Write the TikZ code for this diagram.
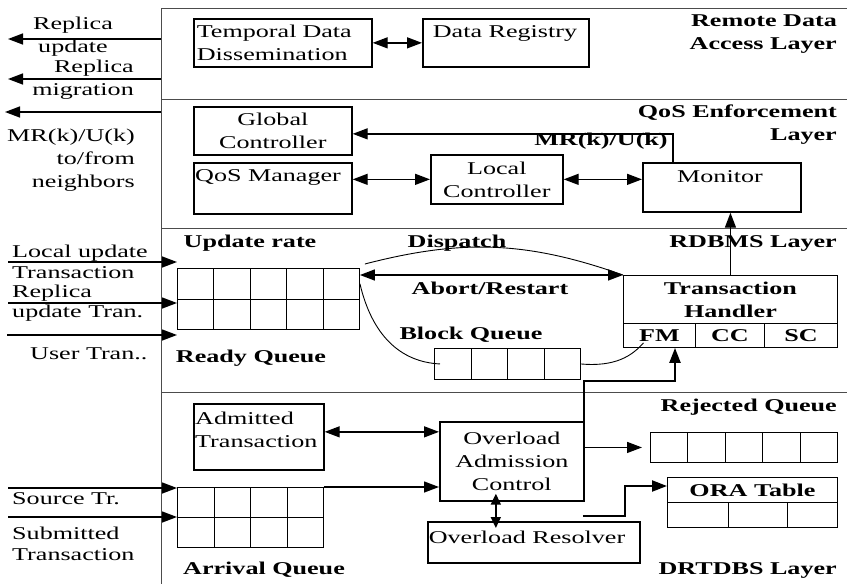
\documentclass[tikz,border=0pt]{standalone}
\usepackage{fontspec}
\setmainfont{Liberation Serif}[FakeStretch=1.45]
\usetikzlibrary{positioning,arrows.meta}
\tikzset{
    box/.style={draw, line width=1.7pt, inner sep=0pt},
    cell/.style={draw, line width=0.9pt, inner sep=0pt, anchor=north west},
    txt/.style={font=\fontsize{18}{23}\selectfont, inner sep=0pt, align=center},
    btxt/.style={font=\fontsize{18}{23}\selectfont\bfseries, inner sep=0pt, align=center},
    layer name/.style={btxt, align=right, anchor=east},
    side/.style={font=\fontsize{18}{20.5}\selectfont, inner sep=0pt, align=left, anchor=west},
    link/.style={line width=0.9pt},
    arr/.style={-{Triangle[length=15pt, width=11pt]}, line width=1.4pt},
    darr/.style={{Triangle[length=15pt, width=11pt]}-{Triangle[length=15pt, width=11pt]}, line width=1.4pt},
    feed/.style={-{Triangle[length=15pt, width=11pt]}, line width=2.2pt},
    frame/.style={draw=black!70, line width=0.9pt}
}

\begin{document}
\begin{tikzpicture}[x=1pt, y=-1pt]
    \useasboundingbox (0,0) rectangle (847,584);

    % layer borders
    \draw[frame] (847,8) -- (161,8) -- (161,584);
    \draw[frame] (161,99) -- (847,99);
    \draw[frame] (161,228) -- (847,228);
    \draw[frame] (161,392) -- (847,392);

    % remote data access layer
    \node[box, txt, anchor=north west, inner xsep=3pt, text width=172pt, align=left, minimum height=48pt] (tdd) at (193,18) {Temporal Data\\Dissemination};
    \node[box, anchor=north west, minimum width=166pt, minimum height=48pt] (reg) at (422,18) {};
    \node[txt] (regtxt) at (505,33) {Data Registry};
    \node[layer name] (ral) at (837,34) {Remote Data\\Access Layer};
    \draw[darr] (tdd) -- (reg);

    \coordinate (rupd-a) at (161,39);
    \coordinate (rupd-b) at (8,39);
    \coordinate (rmig-a) at (161,79);
    \coordinate (rmig-b) at (8,79);
    \coordinate (nb-a) at (161,112);
    \coordinate (nb-b) at (5,112);
    \draw[arr] (rupd-a) -- (rupd-b);
    \draw[arr] (rmig-a) -- (rmig-b);
    \draw[arr] (nb-a) -- (nb-b);
    \node[txt] (rupdtxt) at (73,37) {Replica\\update};
    \node[txt, align=right, anchor=east] (rmigtxt) at (134,80) {Replica\\migration};
    \node[txt, align=right, anchor=east] (nbtxt) at (135,160) {MR(k)/U(k)\\to/from\\neighbors};

    % QoS enforcement layer
    \node[box, txt, anchor=north west, minimum width=158pt, minimum height=48pt] (gc) at (193,106) {Global\\Controller};
    \node[box, anchor=north west, minimum width=158pt, minimum height=51pt] (qm) at (193,162) {};
    \node[txt] (qmtxt) at (268,177) {QoS Manager};
    \node[box, txt, anchor=north west, minimum width=132pt, minimum height=49pt] (lc) at (430,154) {Local\\Controller};
    \node[box, anchor=north west, minimum width=158pt, minimum height=49pt] (mon) at (642,162) {};
    \node[txt] (montxt) at (720,177) {Monitor};
    \node[layer name] (qel) at (837,125) {QoS Enforcement\\Layer};
    \node[btxt] (mrk) at (601,141) {MR(k)/U(k)};

    \draw[darr] (qm.east |- lc.west) -- (lc.west);
    \draw[darr] (lc.east) -- (lc.east -| mon.west);
    \draw[arr] ([xshift=-49pt]mon.north) |- ([yshift=-3pt]gc.east);

    % RDBMS layer
    \foreach \c in {1,...,5}
        \foreach \r in {1,2}
            \node[cell, minimum width=36.4pt, minimum height=30.5pt] (rq-\c-\r) at ({177+36.4*(\c-1)},{268+30.5*(\r-1)}) {};
    \foreach \c in {1,...,4}
        \node[cell, minimum width=36.5pt, minimum height=31pt] (bq-\c) at ({434+36.5*(\c-1)},348) {};
    \node[cell, btxt, minimum width=214pt, minimum height=48pt] (th) at (623,275) {Transaction\\Handler};
    \node[cell, btxt, minimum width=72pt, minimum height=24pt] (fm) at (623,323) {FM};
    \node[cell, btxt, minimum width=69pt, minimum height=24pt] (cc) at (695,323) {CC};
    \node[cell, btxt, minimum width=73pt, minimum height=24pt] (sc) at (764,323) {SC};

    \node[btxt] (urtxt) at (250,243) {Update rate};
    \node[btxt] (rqtxt) at (251,358) {Ready Queue};
    \node[btxt] (dsptxt) at (457,243) {Dispatch};
    \node[btxt] (abtxt) at (490,288) {Abort/Restart};
    \node[btxt] (bqtxt) at (471,335) {Block Queue};
    \node[layer name] (rdl) at (837,243) {RDBMS Layer};

    \coordinate (lu) at (8,262);
    \coordinate (ru) at (8,303);
    \coordinate (ut) at (7,335);
    \draw[arr] (lu) -- (lu -| rq-1-1.west);
    \draw[arr] (ru) -- (ru -| rq-1-1.west);
    \draw[arr] (ut) -- (ut -| rq-1-1.west);
    \node[side] (lutxt) at (12,262) {Local update\\Transaction};
    \node[side] (rutxt) at (12,303) {Replica\\update Tran.};
    \node[side] (uttxt) at (30,354) {User Tran..};

    \draw[darr] (th.north west) -- (th.north west -| rq-5-1.east);
    \draw[link] ([xshift=5pt,yshift=4pt]rq-5-1.north east) to[bend left=17] (th.north west);
    \draw[link] (rq-5-1.east) .. controls (372,335) and (400,362) .. ([xshift=6pt]bq-1.west);
    \draw[link] (bq-4.east) .. controls (615,367) and (632,356) .. ([xshift=-16pt,yshift=5pt]fm.south);
    \draw[arr] (th.north) -- (th.north |- mon.south);

    % DRTDBS layer
    \node[box, anchor=north west, minimum width=130pt, minimum height=66pt] (adm) at (193,403) {};
    \node[txt, align=left, anchor=west] (admtxt) at (195,430) {Admitted\\Transaction};
    \node[box, txt, anchor=north west, minimum width=144pt, minimum height=79pt] (oac) at (439,421) {Overload\\Admission\\Control};
    \node[box, anchor=north west, minimum width=212pt, minimum height=41pt] (res) at (427,521) {};
    \node[txt] (restxt) at (527,537) {Overload Resolver};

    \foreach \c in {1,...,4}
        \foreach \r in {1,2}
            \node[cell, minimum width=36.5pt, minimum height=30pt] (aq-\c-\r) at ({177+36.5*(\c-1)},{487+30*(\r-1)}) {};
    \foreach \c in {1,...,5}
        \node[cell, minimum width=37.4pt, minimum height=30pt] (rj-\c) at ({650+37.4*(\c-1)},432) {};
    \node[cell, btxt, minimum width=170pt, minimum height=25pt] (ora) at (667,477) {ORA Table};
    \node[cell, minimum width=61pt, minimum height=25pt] (ora-1) at (667,502) {};
    \node[cell, minimum width=59pt, minimum height=25pt] (ora-2) at (728,502) {};
    \node[cell, minimum width=50pt, minimum height=25pt] (ora-3) at (787,502) {};

    \node[btxt] (aqtxt) at (264,570) {Arrival Queue};
    \node[layer name] (rjtxt) at (837,407) {Rejected Queue};
    \node[layer name] (drl) at (837,570) {DRTDBS Layer};

    \coordinate (st) at (8,488);
    \coordinate (sbt) at (8,517);
    \draw[arr] (st) -- (st -| aq-1-1.west);
    \draw[arr] (sbt) -- (sbt -| aq-1-2.west);
    \node[side] (sttxt) at (12,499) {Source Tr.};
    \node[side] (sbtxt) at (12,544) {Submitted\\Transaction};

    \draw[darr] ([yshift=5pt]adm.east) -- ([yshift=5pt]adm.east -| oac.west);
    \draw[arr] (aq-4-1.north east) -- (aq-4-1.north east -| oac.west);
    \draw[arr] (oac.east |- rj-1.center) -- ([xshift=-8pt]rj-1.west);
    \coordinate (ovr-a) at ([xshift=-16pt]oac.south);
    \coordinate (ovr-b) at (ovr-a |- res.north);
    \draw[{Triangle[length=11pt, width=10pt]}-{Triangle[length=11pt, width=10pt]}, line width=1.6pt] ([yshift=8pt]ovr-a) -- ([yshift=-7pt]ovr-b);

    \coordinate (fmbend) at (675,381);
    \coordinate (orabend) at (625,486);
    \draw[feed] ([xshift=-1pt]oac.north east) |- (fmbend) -- (fmbend |- fm.south);
    \draw[feed] ([xshift=49pt,yshift=5pt]res.north) -| (orabend) -- (orabend -| ora.west);
\end{tikzpicture}
\end{document}
